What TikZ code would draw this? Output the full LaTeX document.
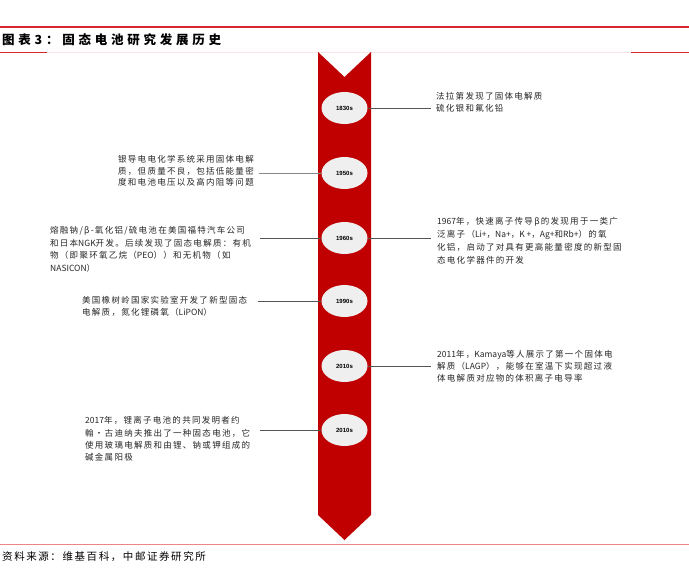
\documentclass[tikz,border=0pt]{standalone}
\usepackage{fontspec}
\usetikzlibrary{shapes.geometric}
\setmainfont{Noto Sans CJK SC}[LetterSpace=15]
\newfontfamily\latinfont{Noto Sans CJK SC}
\newfontfamily\titlefont{Noto Sans CJK SC}[LetterSpace=30]
\newfontfamily\footfont{Noto Sans CJK SC}[LetterSpace=15]
\newfontfamily\yearfont{Liberation Sans}
\newcommand\lat[1]{{\latinfont #1}}
\definecolor{bandred}{HTML}{C00000}
\definecolor{ellfill}{HTML}{EFEFEF}
\definecolor{toprule}{HTML}{D7262E}
\definecolor{pinkrule}{HTML}{FBE4E6}
\definecolor{footrule}{HTML}{E8868A}
\definecolor{conn}{HTML}{555555}
\definecolor{txt}{HTML}{262626}
\begin{document}
\begin{tikzpicture}[x=1pt,y=-1pt,
  yearnode/.style={ellipse, fill=ellfill, minimum width=46pt, minimum height=32pt, inner sep=0pt, font=\yearfont\fontsize{6}{7}\selectfont\bfseries},
  desc/.style={align=left, inner sep=0pt, anchor=north west, font=\fontsize{8.5}{12}\selectfont, text=txt},
  conline/.style={draw=conn, line width=0.8pt}]
\useasboundingbox (0,0) rectangle (689,571);
\fill[white] (0,0) rectangle (689,571);
\draw[toprule, line width=2pt] (0,27) -- (689,27);
\draw[pinkrule, line width=0.8pt] (0,52) -- (689,52);
\draw[toprule, line width=1pt] (0,52) -- (47,52);
\draw[toprule, line width=1pt] (631,52) -- (689,52);
\node[anchor=west, inner sep=0pt, text=black, font=\titlefont\fontsize{12.5}{14}\selectfont\bfseries] (title) at (2,40) {图表3：固态电池研究发展历史};
% band
\fill[bandred] (318,52) -- (344.5,77) -- (371,52) -- (371,515) -- (344.5,540) -- (318,515) -- cycle;
% years
\node[yearnode] (e1) at (344.5,108) {1830s};
\node[yearnode] (e2) at (344.5,173) {1950s};
\node[yearnode] (e3) at (344.5,238) {1960s};
\node[yearnode] (e4) at (344.5,301) {1990s};
\node[yearnode] (e5) at (344.5,366) {2010s};
\node[yearnode] (e6) at (344.5,430) {2010s};
% texts
\node[desc] (t1) at (436,92.5) {法拉第发现了固体电解质\\硫化银和氟化铅};
\node[desc, font=\fontsize{8.5}{11.2}\selectfont] (t2) at (118,155.5) {银导电电化学系统采用固体电解\\质，但质量不良，包括低能量密\\度和电池电压以及高内阻等问题};
\node[desc, font=\fontsize{8.5}{12.5}\selectfont] (t3) at (50,226.5) {熔融钠/β-氧化铝/硫电池在美国福特汽车公司\\和日本\lat{NGK}开发。后续发现了固态电解质：有机\\物（即聚环氧乙烷（\lat{PEO}））和无机物（如\\\lat{NASICON}）};
\node[desc, font=\fontsize{8.5}{12.7}\selectfont] (t4) at (437,217.5) {\lat{1967}年，快速离子传导β的发现用于一类广\\泛离子（\lat{Li+}，\lat{Na+}，\lat{K +}，\lat{Ag+}和\lat{Rb+}）的氧\\化铝，启动了对具有更高能量密度的新型固\\态电化学器件的开发};
\node[desc] (t5) at (82,296.5) {美国橡树岭国家实验室开发了新型固态\\电解质，氮化锂磷氧（\lat{LiPON}）};
\node[desc, font=\fontsize{8.5}{11.7}\selectfont] (t6) at (437,350.5) {\lat{2011}年，\lat{Kamaya}等人展示了第一个固体电\\解质（\lat{LAGP}），能够在室温下实现超过液\\体电解质对应物的体积离子电导率};
\node[desc, font=\fontsize{8.5}{12.3}\selectfont] (t7) at (85,416.5) {\lat{2017}年，锂离子电池的共同发明者约\\翰·古迪纳夫推出了一种固态电池，它\\使用玻璃电解质和由锂、钠或钾组成的\\碱金属阳极};
% connectors
\coordinate (r1) at (431,108);
\coordinate (l2) at (259,173);
\coordinate (l3) at (260,238);
\coordinate (r3) at (431,238);
\coordinate (l4) at (258,301);
\coordinate (r5) at (431,366);
\coordinate (l6) at (260,430);
\draw[conline] (e1.east) -- (r1);
\draw[conline, draw=conn!70] (l2) -- (e2.west);
\draw[conline] (l3) -- (e3.west);
\draw[conline] (e3.east) -- (r3);
\draw[conline] (l4) -- (e4.west);
\draw[conline] (e5.east) -- (r5);
\draw[conline] (l6) -- (e6.west);
% footer
\draw[footrule, line width=1pt] (0,544) -- (689,544);
\node[anchor=west, inner sep=0pt, text=black, font=\footfont\fontsize{10.5}{12}\selectfont] (src) at (2,557) {资料来源：维基百科，中邮证券研究所};
\end{tikzpicture}
\end{document}
